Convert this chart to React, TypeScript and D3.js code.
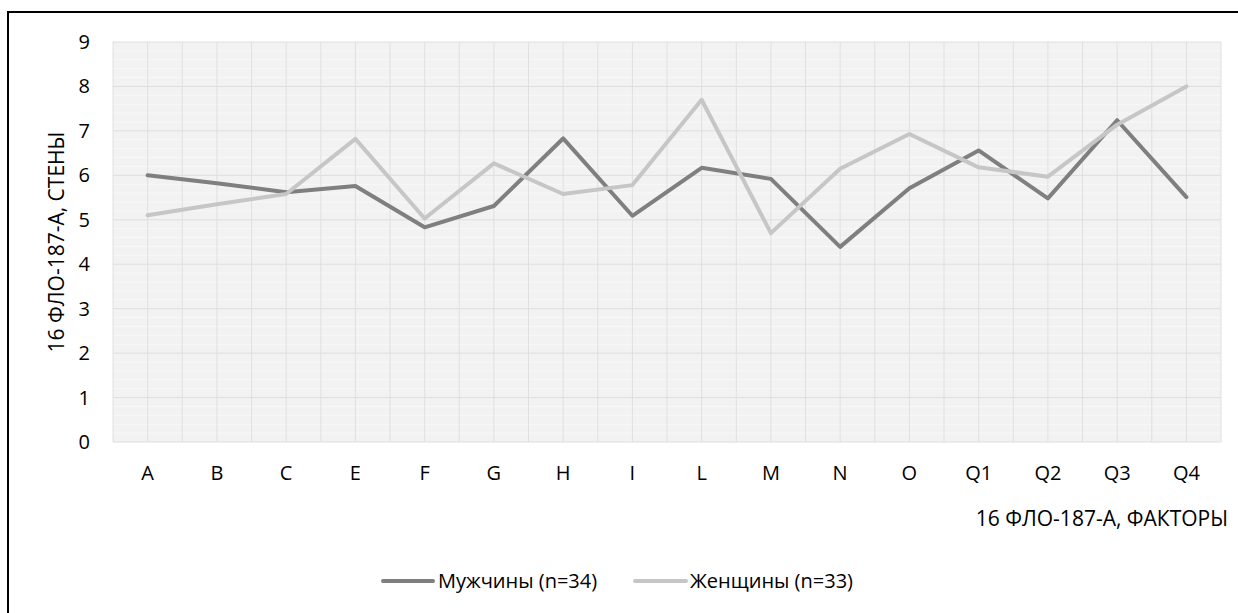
import * as d3 from "d3";

const categories = ["A", "B", "C", "E", "F", "G", "H", "I", "L", "M", "N", "O", "Q1", "Q2", "Q3", "Q4"];
const men = [6.0, 5.82, 5.62, 5.76, 4.83, 5.31, 6.83, 5.09, 6.17, 5.92, 4.39, 5.71, 6.56, 5.48, 7.24, 5.51];
const women = [5.1, 5.35, 5.58, 6.82, 5.03, 6.27, 5.58, 5.78, 7.7, 4.7, 6.15, 6.93, 6.18, 5.97, 7.14, 8.0];
const yTicks = [0, 1, 2, 3, 4, 5, 6, 7, 8, 9];

const seriesList = [
    { name: "Мужчины (n=34)", values: men, color: "#7f7f7f" },
    { name: "Женщины (n=33)", values: women, color: "#c6c6c6" },
];

const W = 1238;
const H = 613;
const plot = { left: 113, right: 1221, top: 42, bottom: 442 };
const FONT = "'Open Sans', sans-serif";
const FS = 20;

export default function App() {
    const x = d3
        .scaleBand<string>()
        .domain(categories)
        .range([plot.left, plot.right]);
    const y = d3.scaleLinear().domain([0, 9]).range([plot.bottom, plot.top]);
    const cx = (c: string) => (x(c) || 0) + x.bandwidth() / 2;

    // vertical grid: band edges plus band centres
    const vLines: number[] = [];
    categories.forEach((c) => {
        vLines.push(x(c) || 0);
        vLines.push(cx(c));
    });
    vLines.push(plot.right);

    const minor = d3.range(0, 9, 0.2).filter((v) => Math.abs(v - Math.round(v)) > 0.01);

    const line = d3
        .line<number>()
        .x((_, i) => cx(categories[i]))
        .y((d) => y(d));

    const legendY = 581;
    const legend = [
        { x0: 383, x1: 433, tx: 438 },
        { x0: 635, x1: 686, tx: 690 },
    ];

    return (
        <svg
            width={W}
            height={H}
            style={{ position: "absolute", left: 0, top: 0, background: "#fff" }}
            fontFamily={FONT}
        >
            <rect x={8} y={12} width={W + 20} height={H + 20} fill="#fff" stroke="#000" strokeWidth={2} />

            <rect
                x={plot.left}
                y={plot.top}
                width={plot.right - plot.left}
                height={plot.bottom - plot.top}
                fill="#f2f2f2"
            />
            {minor.map((v) => (
                <line key={"m" + v} x1={plot.left} x2={plot.right} y1={y(v)} y2={y(v)} stroke="#f8f8f8" strokeWidth={1} />
            ))}
            {vLines.map((v, i) => (
                <line key={"v" + i} x1={v} x2={v} y1={plot.top} y2={plot.bottom} stroke="#e0e0e0" strokeWidth={1} />
            ))}
            {yTicks.map((t) => (
                <line key={"h" + t} x1={plot.left} x2={plot.right} y1={y(t)} y2={y(t)} stroke="#dedede" strokeWidth={1} />
            ))}

            {seriesList.map((s) => (
                <path
                    key={s.name}
                    d={line(s.values) || ""}
                    fill="none"
                    stroke={s.color}
                    strokeWidth={4}
                    strokeLinejoin="round"
                    strokeLinecap="round"
                />
            ))}

            {yTicks.map((t) => (
                <text key={"yt" + t} x={90} y={y(t)} dy="0.35em" textAnchor="end" fontSize={FS} fill="#000">
                    {t}
                </text>
            ))}
            {categories.map((c) => (
                <text key={"xt" + c} x={cx(c)} y={473} dy="0.35em" textAnchor="middle" fontSize={FS} fill="#000">
                    {c}
                </text>
            ))}

            <text
                transform={`translate(57, ${(plot.top + plot.bottom) / 2}) rotate(-90)`}
                dy="0.35em"
                textAnchor="middle"
                fontSize={21}
                fill="#000"
            >
                16 ФЛО-187-А, СТЕНЫ
            </text>
            <text x={1228} y={519} dy="0.35em" textAnchor="end" fontSize={21} fill="#000">
                16 ФЛО-187-А, ФАКТОРЫ
            </text>

            {seriesList.map((s, i) => (
                <g key={"lg" + i}>
                    <line
                        x1={legend[i].x0}
                        x2={legend[i].x1}
                        y1={legendY}
                        y2={legendY}
                        stroke={s.color}
                        strokeWidth={4}
                        strokeLinecap="round"
                    />
                    <text x={legend[i].tx} y={legendY} dy="0.35em" fontSize={FS} fill="#000">
                        {s.name}
                    </text>
                </g>
            ))}
        </svg>
    );
}
